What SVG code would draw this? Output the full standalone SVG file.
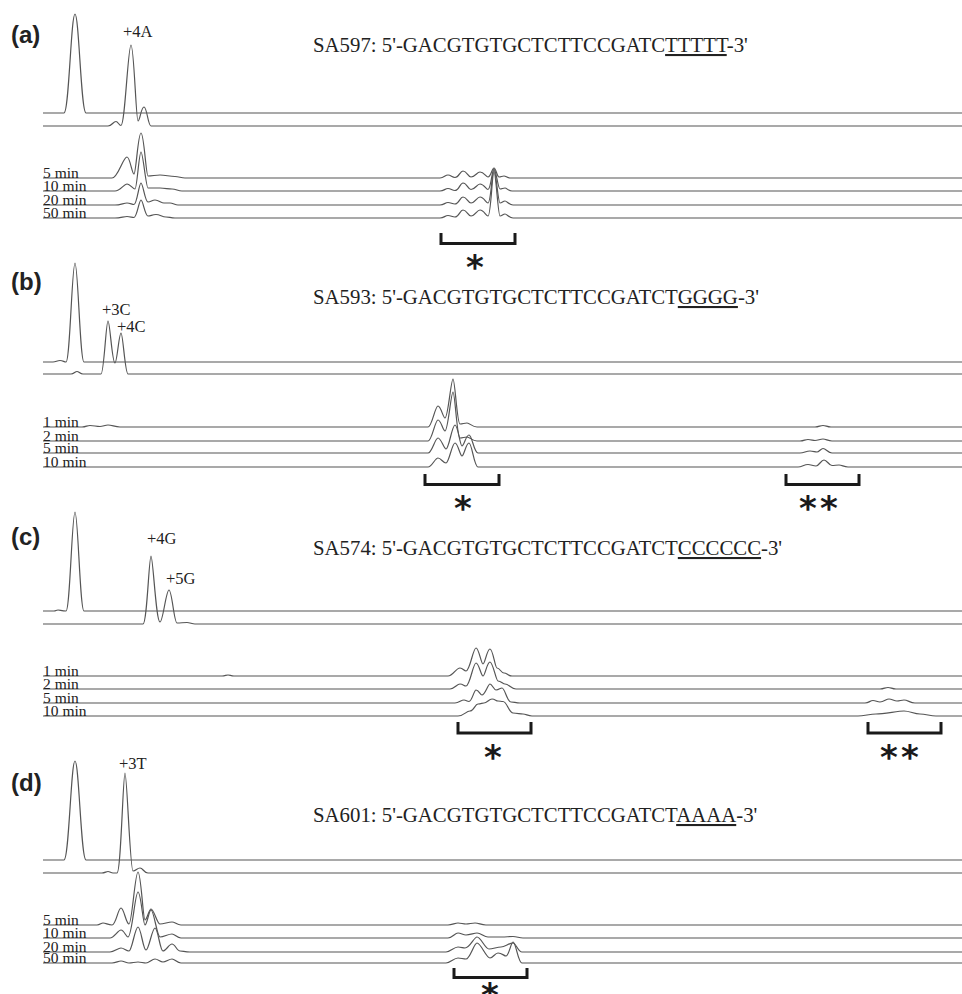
<svg xmlns="http://www.w3.org/2000/svg" width="962" height="994" viewBox="0 0 962 994">
<style>
.tr{fill:none;stroke:#555;stroke-width:1.2;stroke-linejoin:round}
.lbl{font-family:'Liberation Serif','Times New Roman',serif;font-size:15.5px;fill:#222}
.pk{font-family:'Liberation Serif','Times New Roman',serif;font-size:16.5px;fill:#222}
.seq{font-family:'Liberation Serif','Times New Roman',serif;font-size:20.8px;fill:#222}
.pl{font-family:'Liberation Sans',Arial,sans-serif;font-weight:bold;font-size:24px;fill:#222}
.br{fill:none;stroke:#1a1a1a;stroke-width:3}
.ast{font-family:'DejaVu Sans',sans-serif;font-weight:bold;font-size:34px;fill:#1a1a1a;text-anchor:middle}
.u{text-decoration:underline}
</style>
<rect width="962" height="994" fill="#fff"/>

<g id="panel-a">
<text class="pl" x="11" y="42.5">(a)</text>
<text class="seq" x="313" y="52">SA597: 5'-GACGTGTGCTCTTCCGATC<tspan class="u">TTTTT</tspan>-3'</text>
<text class="pk" x="123" y="37">+4A</text>
<path class="tr" d="M43,113 L64,113 C69,113 71,14 75,14 C79,14 81,113 86,113 L962,113"/>
<path class="tr" d="M43,126 L108,126 C112,126 113,121.5 116,121.5 C118,121.5 119,125.5 121,125.5 C125,125.5 128,45 131,45 C134,45 136,121 138,121 C140,121 141,107 144,107 C147,107 148,126 151,126 L962,126"/>
<path class="tr" d="M43,178 L112,178 C118,178 123,157 127,157 C130,157 132,174 134,174 C136,174 138,133 141,133 C144,133 146,176 148,176 C152,176 156,175 160,175 C165,175 170,176.5 175,176.5 C179,176.5 181,178 185,178 L440,178 C444,178 445,175 448,175 C451,175 452,177.5 455,177.5 C459,177.5 460,171 463,171 C467,171 468,177 471,177 C475,177 477,172 480,172 C484,172 486,177 488,177 C491,177 492,168 494,168 C496,168 497,177 499,177 C501,177 502,176 504,176 C506,176 507,178 510,178 L962,178"/>
<path class="tr" d="M43,191 L115,191 C120,191 124,184 127,184 C130,184 133,189 135,189 C137,189 139,152 141,152 C143,152 146,188 148,188 C152,188 156,188 160,188 C165,188 168,189 172,189 C176,189 178,191 182,191 L440,191 C444,191 445,188.5 448,188.5 C451,188.5 452,190.5 455,190.5 C459,190.5 460,183 463,183 C467,183 468,189.5 471,189.5 C475,189.5 477,184 480,184 C484,184 486,189.5 488,189.5 C491,189.5 492,169 494,169 C496,169 498,189 500,189 C502,189 503,188 505,188 C507,188 508,191 512,191 L962,191"/>
<path class="tr" d="M43,205 L115,205 C120,205 124,203 127,203 C130,203 132,204.5 134,204.5 C137,204.5 139,183 141,183 C143,183 145,202 148,202 C151,202 152,200 155,200 C159,200 161,203 164,203 C167,203 168,203 170,203 C173,203 175,205 178,205 L440,205 C444,205 445,202.5 448,202.5 C451,202.5 452,204 455,204 C459,204 460,197 463,197 C467,197 468,203 471,203 C475,203 477,197 480,197 C484,197 486,203 488,203 C491,203 492,170 494,170 C496,170 498,203 500,203 C502,203 503,201 505,201 C507,201 509,205 513,205 L962,205"/>
<path class="tr" d="M43,218 L115,218 C120,218 124,216.5 127,216.5 C130,216.5 132,217.5 134,217.5 C137,217.5 139,200 141,200 C143,200 145,216 148,216 C151,216 152,214.5 156,214.5 C160,214.5 162,217 166,217 C169,217 171,218 175,218 L440,218 C444,218 445,215.5 448,215.5 C451,215.5 452,217 455,217 C459,217 460,210 463,210 C467,210 468,216 471,216 C475,216 477,210 480,210 C484,210 486,216 488,216 C491,216 492,172 494,172 C496,172 498,216 500,216 C502,216 503,214 505,214 C507,214 509,218 513,218 L962,218"/>
<text class="lbl" x="43" y="177.5">5 min</text>
<text class="lbl" x="43" y="190.5">10 min</text>
<text class="lbl" x="43" y="204.5">20 min</text>
<text class="lbl" x="43" y="217.5">50 min</text>
<path class="br" d="M441,233 V243.5 H515 V233"/>
<text class="ast" x="475" y="278.5">*</text>
</g>

<g id="panel-b">
<text class="pl" x="11" y="290">(b)</text>
<text class="seq" x="313" y="304">SA593: 5'-GACGTGTGCTCTTCCGATCT<tspan class="u">GGGG</tspan>-3'</text>
<text class="pk" x="102" y="315">+3C</text>
<text class="pk" x="117" y="332">+4C</text>
<path class="tr" d="M43,362 L53,362 C56,362 57,360.5 60,360.5 C63,360.5 64,362 66,362 C70,362 72,263 75,263 C78,263 80,362 84,362 L962,362"/>
<path class="tr" d="M43,374 L71,374 C74,374 75,371.5 77,371.5 C79,371.5 80,374 83,374 L101,374 C104,374 106,321 108,321 C110,321 112,363 115,363 C117,363 119,333 121,333 C123,333 125,374 128,374 L962,374"/>
<path class="tr" d="M43,427 L82,427 C86,427 87,425.5 90,425.5 C94,425.5 96,426.5 100,426.5 C103,426.5 105,425 108,425 C112,425 115,427 120,427 L428,427 C432,427 435,406 438,406 C441,406 443,418 445,418 C448,418 451,379 453,379 C455,379 457,424 460,424 C463,424 464,423 467,423 C470,423 472,427 477,427 L815,427 C819,427 820,425.5 823,425.5 C826,425.5 827,427 831,427 L962,427"/>
<path class="tr" d="M43,441 L428,441 C432,441 435,420 438,420 C441,420 443,431 445,431 C448,431 451,392 453,392 C455,392 457,438 460,438 C463,438 464,437 467,437 C470,437 472,441 477,441 L800,441 C804,441 805,439.5 808,439.5 C811,439.5 813,440.5 815,440.5 C818,440.5 820,439 823,439 C826,439 828,441 832,441 L962,441"/>
<path class="tr" d="M43,453 L428,453 C432,453 435,438 438,438 C441,438 444,449 446,449 C449,449 452,425 455,425 C458,425 460,446 462,446 C464,446 466,435 469,435 C472,435 474,453 478,453 L800,453 C804,453 806,451 810,451 C813,451 815,452 817,452 C819,452 821,448.5 823,448.5 C826,448.5 828,453 832,453 L962,453"/>
<path class="tr" d="M43,467 L428,467 C432,467 435,458 438,458 C441,458 443,463 446,463 C449,463 452,443 455,443 C458,443 460,456 462,456 C464,456 466,443 469,443 C472,443 474,467 478,467 L798,467 C802,467 804,464.5 808,464.5 C811,464.5 813,466 816,466 C819,466 821,460 824,460 C827,460 829,465.5 832,465.5 C835,465.5 836,465 839,465 C842,465 844,467 848,467 L962,467"/>
<text class="lbl" x="43" y="426.5">1 min</text>
<text class="lbl" x="43" y="440.5">2 min</text>
<text class="lbl" x="43" y="452.5">5 min</text>
<text class="lbl" x="43" y="466.5">10 min</text>
<path class="br" d="M425,474 V484.5 H499 V474"/>
<path class="br" d="M786,474 V484.5 H859 V474"/>
<text class="ast" x="463" y="519.5">*</text>
<text class="ast" x="808" y="519.5">*</text>
<text class="ast" x="829" y="519.5">*</text>
</g>

<g id="panel-c">
<text class="pl" x="11" y="545">(c)</text>
<text class="seq" x="313" y="555">SA574: 5'-GACGTGTGCTCTTCCGATCT<tspan class="u">CCCCCC</tspan>-3'</text>
<text class="pk" x="147" y="544">+4G</text>
<text class="pk" x="166" y="584">+5G</text>
<path class="tr" d="M43,611 L54,611 C56,611 56,610 58,610 C60,610 62,611 66,611 C70,611 72,512 75,512 C78,512 80,611 84,611 L962,611"/>
<path class="tr" d="M43,624 L143,624 C147,624 149,556 151,556 C153,556 156,622 160,622 C163,622 166,590 169,590 C172,590 174,623 177,623 C181,623 183,622.5 187,622.5 C190,622.5 192,624 195,624 L962,624"/>
<path class="tr" d="M43,676 L222,676 C225,676 226,675 228,675 C230,675 231,676 234,676 L448,676 C453,676 456,668 460,668 C463,668 464,671 466,671 C470,671 473,648 476,648 C479,648 481,664 483,664 C485,664 487,649 490,649 C493,649 495,668 497,668 C500,668 501,673 504,673 C507,673 508,676 512,676 L962,676"/>
<path class="tr" d="M43,689 L450,689 C454,689 457,684 460,684 C463,684 464,686 466,686 C470,686 473,663 476,663 C479,663 481,676 483,676 C485,676 487,662 490,662 C493,662 496,681 498,681 C501,681 503,684 505,684 C509,684 511,689 516,689 L880,689 C884,689 885,687.5 888,687.5 C891,687.5 892,689 896,689 L962,689"/>
<path class="tr" d="M43,703 L455,703 C459,703 461,700 464,700 C466,700 467,701.5 469,701.5 C472,701.5 474,690 476,690 C479,690 480,695 482,695 C485,695 488,684 490,684 C492,684 494,690 496,690 C499,690 500,688 502,688 C505,688 507,702 511,702 C514,702 516,703 520,703 L865,703 C869,703 870,700.5 873,700.5 C876,700.5 877,702 880,702 C884,702 886,699 889,699 C892,699 894,701 897,701 C900,701 901,700 904,700 C908,700 910,703 915,703 L962,703"/>
<path class="tr" d="M43,716 L458,716 C464,716 466,711 470,711 C474,711 475,704 478,704 C481,704 482,703 484,703 C487,703 489,699 492,699 C495,699 496,701 498,701 C500,701 501,701.5 503,701.5 C507,701.5 509,713 513,713 C517,713 520,714 523,714 C526,714 528,716 532,716 L858,716 C864,716 870,714 876,714 C884,714 898,711 904,711 C910,711 914,714 920,714 C926,714 930,716 936,716 L962,716"/>
<text class="lbl" x="43" y="675.5">1 min</text>
<text class="lbl" x="43" y="688.5">2 min</text>
<text class="lbl" x="43" y="702.5">5 min</text>
<text class="lbl" x="43" y="715.5">10 min</text>
<path class="br" d="M458,722 V733 H531 V722"/>
<path class="br" d="M868,722 V733 H941 V722"/>
<text class="ast" x="493" y="768.5">*</text>
<text class="ast" x="889" y="768.5">*</text>
<text class="ast" x="910" y="768.5">*</text>
</g>

<g id="panel-d">
<text class="pl" x="11" y="791">(d)</text>
<text class="seq" x="313" y="822">SA601: 5'-GACGTGTGCTCTTCCGATCT<tspan class="u">AAAA</tspan>-3'</text>
<text class="pk" x="119" y="769">+3T</text>
<path class="tr" d="M43,860 L64,860 C69,860 71,761 75,761 C79,761 81,860 86,860 L962,860"/>
<path class="tr" d="M43,873 L102,873 C105,873 106,871.5 108,871.5 C110,871.5 111,873 113,873 L117,873 C121,873 123,773 125,773 C127,773 130,871 133,871 C136,871 137,868 140,868 C143,868 144,873 148,873 L962,873"/>
<path class="tr" d="M43,925 L97,925 C100,925 101,923 103,923 C106,923 108,925 112,925 C116,925 118,908 121,908 C124,908 126,924 129,924 C132,924 135,872 138,872 C141,872 143,920 145,920 C147,920 149,909 151,909 C154,909 157,924 160,924 C164,924 168,922 172,922 C175,922 177,925 181,925 L448,925 C452,925 455,923 458,923 C461,923 463,924 466,924 C469,924 472,923 475,923 C479,923 481,925 486,925 L962,925"/>
<path class="tr" d="M43,938 L110,938 C114,938 118,930 121,930 C124,930 126,937 128,937 C132,937 135,892 138,892 C141,892 143,925 145,925 C147,925 149,910 151,910 C154,910 157,937 160,937 C164,937 168,934 172,934 C175,934 177,938 181,938 L448,938 C452,938 455,933 458,933 C461,933 463,935 466,935 C470,935 474,933 477,933 C481,933 484,937 488,937 C493,937 498,937 502,937 C506,937 509,936.5 513,936.5 C517,936.5 519,938 523,938 L962,938"/>
<path class="tr" d="M43,952 L110,952 C114,952 118,948 121,948 C124,948 126,951 129,951 C132,951 135,927 138,927 C141,927 143,950 146,950 C149,950 152,928 155,928 C158,928 160,951 163,951 C166,951 169,944 172,944 C175,944 177,951 180,951 C183,951 185,952 190,952 L446,952 C450,952 454,947 458,947 C461,947 463,948 465,948 C470,948 474,937 477,937 C481,937 485,949 489,949 C493,949 497,947 501,947 C505,947 509,943 513,943 C516,943 518,952 522,952 L962,952"/>
<path class="tr" d="M43,963 L112,963 C116,963 118,961 121,961 C124,961 126,963 129,963 C132,963 135,962 138,962 C141,962 143,963 146,963 C149,963 152,959 155,959 C158,959 160,962 163,962 C166,962 169,959 172,959 C175,959 177,963 181,963 L446,963 C450,963 454,958 458,958 C461,958 463,959 466,959 C470,959 474,943 477,943 C481,943 486,958 490,958 C493,958 495,953 498,953 C502,953 504,956 506,956 C509,956 511,942 513,942 C516,942 518,963 522,963 L962,963"/>
<text class="lbl" x="43" y="924.5">5 min</text>
<text class="lbl" x="43" y="937.5">10 min</text>
<text class="lbl" x="43" y="951.5">20 min</text>
<text class="lbl" x="43" y="962.5">50 min</text>
<path class="br" d="M454,968 V977.5 H527 V968"/>
<text class="ast" x="490" y="1007">*</text>
</g>
</svg>
